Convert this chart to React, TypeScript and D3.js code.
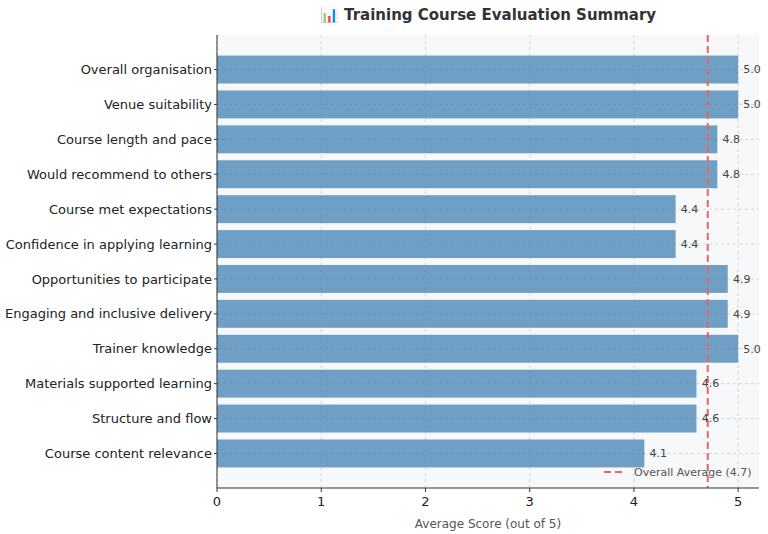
import React from 'react';
import * as d3 from 'd3';

// Evaluation items, top to bottom as shown
const questions = [
  'Overall organisation',
  'Venue suitability',
  'Course length and pace',
  'Would recommend to others',
  'Course met expectations',
  'Confidence in applying learning',
  'Opportunities to participate',
  'Engaging and inclusive delivery',
  'Trainer knowledge',
  'Materials supported learning',
  'Structure and flow',
  'Course content relevance',
];
const scores = [5.0, 5.0, 4.8, 4.8, 4.4, 4.4, 4.9, 4.9, 5.0, 4.6, 4.6, 4.1];
const xTicks = [0, 1, 2, 3, 4, 5];

const WIDTH = 768;
const HEIGHT = 534;
const margin = { top: 35, right: 9, bottom: 46, left: 217 };
const FONT = 'DejaVu Sans, sans-serif';

export default function App() {
  const innerW = WIDTH - margin.left - margin.right;
  const innerH = HEIGHT - margin.top - margin.bottom;

  const x = d3.scaleLinear().domain([0, 5.2]).range([0, innerW]);
  // matplotlib-style: bar i centred at i, height 0.8, 5% margins
  const y = d3.scaleLinear().domain([-0.99, 11.99]).range([0, innerH]);
  const barH = y(0.8) - y(0);

  const average = d3.mean(scores) ?? 0;
  const avgLabel = `Overall Average (${average.toFixed(1)})`;
  const red = '#e8666a';

  return (
    <svg
      width={WIDTH}
      height={HEIGHT}
      style={{ position: 'absolute', left: 0, top: 0, fontFamily: FONT }}
    >
      <rect width={WIDTH} height={HEIGHT} fill="#ffffff" />
      <text
        x={margin.left + innerW / 2}
        y={20}
        textAnchor="middle"
        fontSize={15}
        fontWeight="bold"
        fill="#333333"
      >
        📊 Training Course Evaluation Summary
      </text>

      <g transform={`translate(${margin.left},${margin.top})`}>
        <rect width={innerW} height={innerH} fill="#f7f8fa" />

        {/* grid */}
        {xTicks.map((t) => (
          <line
            key={`gx${t}`}
            x1={x(t)}
            x2={x(t)}
            y1={0}
            y2={innerH}
            stroke="#cccccc"
            strokeWidth={0.8}
            strokeDasharray="3,3"
          />
        ))}
        {questions.map((q, i) => (
          <line
            key={`gy${q}`}
            x1={0}
            x2={innerW}
            y1={y(i)}
            y2={y(i)}
            stroke="#cccccc"
            strokeWidth={0.8}
            strokeDasharray="3,3"
          />
        ))}

        {/* bars */}
        {scores.map((v, i) => (
          <rect
            key={questions[i]}
            x={0}
            y={y(i) - barH / 2}
            width={x(v)}
            height={barH}
            fill="steelblue"
            fillOpacity={0.76}
          />
        ))}

        {/* overall average */}
        <line
          x1={x(average)}
          x2={x(average)}
          y1={0}
          y2={innerH}
          stroke={red}
          strokeWidth={2}
          strokeDasharray="7,4"
        />

        {/* value labels */}
        {scores.map((v, i) => (
          <text
            key={`v${i}`}
            x={x(v + 0.05)}
            y={y(i)}
            dy="0.35em"
            fontSize={11}
            fill="#444444"
          >
            {v.toFixed(1)}
          </text>
        ))}

        {/* legend */}
        <line
          x1={387}
          x2={407}
          y1={437}
          y2={437}
          stroke={red}
          strokeWidth={2}
          strokeDasharray="7,4"
        />
        <text x={417} y={437} dy="0.35em" fontSize={11} fill="#555555">
          {avgLabel}
        </text>

        {/* y axis */}
        <line x1={0} x2={0} y1={0} y2={innerH} stroke="#333333" strokeWidth={1} />
        {questions.map((q, i) => (
          <g key={`yt${q}`} transform={`translate(0,${y(i)})`}>
            <line x1={-3} x2={0} stroke="#333333" />
            <text x={-5} dy="0.35em" textAnchor="end" fontSize={13} fill="#222222">
              {q}
            </text>
          </g>
        ))}

        {/* x axis */}
        <line x1={0} x2={innerW} y1={innerH} y2={innerH} stroke="#333333" strokeWidth={1} />
        {xTicks.map((t) => (
          <g key={`xt${t}`} transform={`translate(${x(t)},${innerH})`}>
            <line y1={0} y2={4} stroke="#333333" />
            <text y={18} textAnchor="middle" fontSize={13} fill="#222222">
              {t}
            </text>
          </g>
        ))}
        <text
          x={innerW / 2}
          y={innerH + 40}
          textAnchor="middle"
          fontSize={12}
          fill="#555555"
        >
          Average Score (out of 5)
        </text>
      </g>
    </svg>
  );
}
